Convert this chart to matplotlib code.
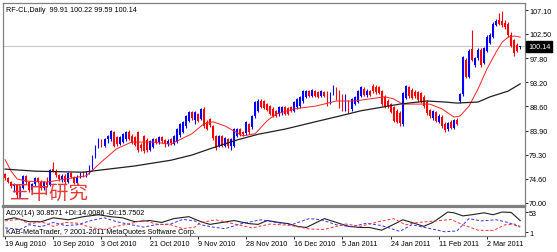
import numpy as np
import matplotlib
matplotlib.use('Agg')
from matplotlib import pyplot as plt

plt.rcParams['font.family'] = ['Liberation Sans', 'Noto Sans CJK SC', 'DejaVu Sans']

# Bougies journalieres RF-CL
opens = [75.5, 74.7, 74.0, 73.2, 73.5, 71.5, 72.9, 75.1, 74.0, 72.4, 73.6, 74.7, 74.1, 72.8, 74.0, 73.4,
         76.6, 76.2, 75.3, 74.5, 75.2, 74.0, 75.8, 75.0, 73.9, 75.0, 75.8, 75.3, 75.9, 76.9, 79.0, 80.9,
         82.1, 81.0, 82.3, 82.2, 83.7, 82.6, 81.4, 81.8, 82.2, 83.6, 82.9, 82.6, 83.6, 81.2, 82.8, 82.0,
         80.1, 80.8, 82.3, 81.7, 82.6, 82.1, 81.3, 82.3, 81.4, 81.8, 83.0, 83.7, 84.8, 85.8, 87.4, 86.0,
         87.1, 86.1, 88.0, 85.6, 86.1, 84.8, 82.9, 81.0, 82.8, 81.0, 82.3, 81.0, 81.0, 82.9, 84.2, 83.6,
         83.4, 85.2, 84.6, 86.7, 87.7, 89.6, 89.6, 89.0, 88.6, 88.1, 87.6, 87.1, 87.4, 88.4, 88.2, 88.4,
         87.7, 88.4, 88.6, 89.6, 90.4, 91.5, 90.6, 91.5, 91.3, 90.6, 91.3, 91.3, 89.4, 91.0, 91.9, 91.5,
         90.6, 88.0, 89.4, 88.0, 89.1, 89.5, 90.6, 92.0, 90.7, 91.5, 92.5, 92.3, 92.2, 91.5, 90.4, 89.6,
         89.0, 88.4, 87.7, 87.3, 85.2, 90.2, 92.2, 91.8, 91.4, 91.3, 91.1, 90.4, 89.4, 87.8, 86.3, 87.4,
         85.6, 86.6, 85.2, 84.2, 85.6, 84.5, 86.0, 89.6, 91.0, 97.5, 94.3, 99.6, 96.5, 97.8, 99.4, 97.0,
         99.3, 100.8, 102.0, 104.3, 105.2, 105.0, 104.6, 104.5, 102.2, 101.3, 100.4, 99.91]
highs = [75.8, 75.0, 74.3, 73.8, 73.7, 73.2, 75.4, 75.3, 74.2, 73.9, 75.0, 74.9, 74.4, 74.3, 74.9, 76.6,
         77.9, 76.5, 75.6, 75.5, 75.5, 76.0, 76.0, 75.2, 75.3, 76.0, 76.1, 76.2, 77.2, 79.3, 81.2, 82.4,
         82.3, 82.5, 83.1, 84.1, 83.9, 82.8, 82.8, 83.5, 83.8, 84.0, 83.2, 82.9, 83.9, 81.5, 83.1, 82.4,
         82.1, 82.5, 82.5, 82.8, 82.8, 82.3, 82.2, 82.5, 83.1, 84.4, 85.4, 85.8, 86.9, 87.7, 87.6, 87.6,
         87.3, 88.3, 88.4, 85.9, 86.3, 85.0, 83.1, 83.1, 83.0, 82.7, 82.5, 82.5, 84.4, 84.4, 84.4, 83.9,
         85.8, 85.4, 86.9, 89.6, 89.9, 89.9, 89.8, 89.3, 88.8, 88.4, 87.9, 88.6, 88.7, 88.6, 88.4, 88.6,
         89.6, 90.2, 90.6, 91.7, 91.8, 91.8, 92.0, 91.7, 91.6, 91.8, 91.6, 91.5, 91.3, 92.6, 92.2, 91.8,
         90.9, 90.9, 89.7, 90.2, 90.6, 91.7, 92.5, 92.3, 91.9, 91.7, 92.8, 92.6, 92.5, 91.8, 90.7, 89.9,
         89.3, 88.7, 88.0, 87.6, 91.3, 92.7, 92.5, 92.1, 91.7, 91.6, 91.4, 90.7, 89.7, 88.1, 87.9, 87.7,
         87.1, 86.9, 85.5, 85.6, 85.9, 86.2, 86.3, 91.2, 98.3, 97.9, 99.6, 103.2, 98.1, 99.8, 99.7, 100.0,
         102.3, 102.6, 104.8, 105.3, 106.5, 106.9, 105.2, 104.8, 102.9, 101.6, 100.7, 100.22]
lows = [74.4, 73.8, 72.9, 72.0, 71.0, 71.2, 72.6, 73.7, 72.1, 72.0, 73.3, 73.8, 72.5, 72.5, 73.0, 73.2,
        75.9, 74.9, 74.2, 74.0, 73.7, 73.8, 74.7, 73.6, 73.7, 74.7, 74.9, 75.0, 75.6, 76.6, 78.6, 80.5,
        80.8, 80.8, 81.6, 81.9, 80.8, 81.0, 81.1, 81.6, 81.9, 82.0, 81.3, 80.9, 79.8, 79.9, 79.6, 79.8,
        79.9, 80.6, 81.4, 81.4, 81.6, 80.8, 81.0, 81.2, 81.1, 81.5, 82.7, 83.4, 84.5, 85.5, 85.9, 85.2,
        85.5, 85.9, 84.5, 84.0, 84.6, 82.1, 80.2, 80.7, 80.8, 80.7, 80.6, 80.2, 80.7, 82.6, 82.8, 82.9,
        83.1, 83.3, 84.3, 86.4, 87.4, 88.2, 88.0, 87.6, 86.9, 86.5, 86.5, 86.8, 87.0, 86.9, 86.9, 87.4,
        87.4, 88.1, 88.3, 89.3, 90.1, 90.4, 90.3, 90.3, 90.1, 90.3, 90.3, 88.7, 89.1, 90.7, 89.7, 88.3,
        87.6, 87.7, 87.3, 87.7, 88.8, 89.2, 90.3, 90.5, 90.4, 90.5, 91.2, 91.0, 90.9, 88.7, 88.3, 88.3,
        87.2, 85.5, 85.3, 84.8, 84.8, 89.9, 90.2, 89.9, 90.2, 89.5, 89.2, 88.3, 87.0, 86.4, 86.0, 85.5,
        85.3, 84.5, 83.6, 83.9, 84.2, 84.2, 84.9, 89.2, 90.6, 94.0, 94.0, 97.2, 96.2, 97.5, 96.2, 96.7,
        99.0, 100.5, 101.7, 104.0, 104.2, 103.9, 103.5, 101.9, 99.9, 98.3, 99.0, 99.59]
closes = [74.7, 74.0, 73.2, 73.5, 71.5, 72.9, 75.1, 74.0, 72.4, 73.6, 74.7, 74.1, 72.8, 74.0, 73.4, 76.3,
          76.2, 75.3, 74.5, 75.2, 74.0, 75.8, 75.0, 73.9, 75.0, 75.8, 75.3, 75.9, 76.9, 79.0, 80.9, 82.1,
          81.0, 82.3, 82.8, 83.8, 81.0, 81.4, 82.6, 83.3, 83.6, 82.3, 81.5, 81.2, 80.1, 80.5, 79.9, 80.2,
          81.9, 82.3, 81.7, 82.6, 81.9, 81.3, 81.9, 81.6, 82.9, 84.2, 85.2, 85.6, 86.7, 87.5, 86.3, 87.4,
          85.7, 88.1, 84.8, 84.3, 84.9, 82.4, 80.5, 82.9, 81.0, 82.4, 80.9, 82.3, 84.2, 84.2, 83.1, 83.2,
          85.6, 83.6, 86.7, 89.4, 89.6, 88.4, 88.2, 87.8, 87.1, 86.7, 86.8, 88.4, 88.5, 87.1, 87.1, 87.7,
          89.4, 90.0, 90.4, 91.5, 91.5, 90.6, 91.7, 90.6, 90.4, 91.5, 90.6, 89.0, 91.0, 92.3, 90.0, 88.6,
          87.9, 90.6, 87.6, 90.0, 90.4, 91.5, 92.3, 90.8, 91.6, 90.8, 91.5, 91.3, 91.2, 89.0, 88.6, 88.6,
          87.5, 85.8, 85.6, 85.4, 91.1, 92.4, 90.5, 90.2, 90.5, 89.8, 89.5, 88.6, 87.3, 86.7, 87.6, 85.8,
          86.8, 84.8, 84.0, 85.3, 84.5, 85.9, 85.2, 90.9, 98.0, 94.3, 99.3, 97.5, 97.8, 99.5, 96.5, 99.7,
          102.0, 102.3, 104.5, 105.0, 104.5, 104.2, 103.8, 102.2, 100.2, 98.9, 99.3, 100.14]

# Moyennes mobiles (points relevés)
ma_red_bars = [0, 2, 4, 7, 14, 20, 27, 32, 37, 42, 49, 55, 62, 66, 69, 73, 76, 79, 83, 87, 90, 96, 103,
               110, 116, 121, 126, 129, 132, 137, 141, 145, 149, 151, 154, 157, 160, 163, 165, 167, 169, 171]
ma_red = [78.3, 76.1, 74.6, 74.2, 74.0, 74.6, 75.2, 77.9, 80.4, 81.7, 81.7, 81.3, 83.3, 85.2, 85.6, 84.8,
          83.8, 82.9, 83.3, 85.8, 87.1, 88.1, 88.6, 89.6, 89.6, 90.0, 90.4, 90.0, 89.0, 89.0, 89.0, 88.1,
          86.5, 86.7, 88.6, 91.9, 95.8, 99.0, 100.9, 101.9, 102.1, 101.9]
ma_black_bars = [0, 10, 26, 30, 43, 55, 62, 69, 77, 84, 93, 103, 111, 118, 125, 131, 140, 146, 150, 157,
                 161, 167, 171]
ma_black = [76.5, 76.1, 75.9, 76.2, 77.1, 78.2, 79.2, 80.6, 82.1, 83.2, 84.2, 85.6, 86.7, 87.7, 88.4, 89.0,
            89.6, 89.4, 89.2, 89.4, 90.4, 91.5, 92.9]

# ADX(14)
adx_bars = [0, 3, 8, 12, 16, 21, 26, 31, 35, 39, 43, 48, 52, 56, 61, 65, 68, 72, 76, 81, 84, 87, 91, 94,
            97, 100, 106, 110, 114, 118, 121, 125, 129, 132, 135, 139, 142, 147, 149, 152, 155, 159, 162,
            165, 168, 170, 171]
adx = [33, 38, 28, 28, 38, 33, 41, 46, 41, 38, 28, 31, 26, 36, 41, 28, 21, 26, 31, 23, 21, 31, 26, 23,
       16, 13, 36, 26, 16, 13, 13, 6, 21, 33, 26, 16, 26, 53, 51, 43, 46, 51, 46, 53, 52, 38, 30.86]
pdi_bars = [0, 5, 8, 12, 16, 20, 24, 29, 33, 37, 42, 46, 50, 55, 59, 63, 65, 69, 73, 78, 85, 90, 95, 101,
            105, 110, 115, 120, 125, 131, 135, 140, 146, 150, 154, 158, 163, 167, 171]
pdi = [12, 8, 20, 15, 26, 18, 20, 32, 38, 28, 20, 14, 20, 22, 34, 30, 20, 14, 10, 22, 33, 26, 20, 36,
       33, 20, 15, 24, 18, 3, 20, 12, 2, 4, 36, 30, 33, 26, 14.0]
mdi_bars = [0, 5, 8, 12, 16, 20, 24, 29, 33, 37, 42, 46, 50, 55, 59, 63, 65, 70, 75, 82, 88, 95, 101,
            106, 113, 118, 124, 129, 133, 137, 143, 148, 152, 157, 162, 166, 169, 171]
mdi = [30, 34, 22, 28, 16, 26, 24, 12, 8, 16, 24, 32, 22, 20, 10, 14, 26, 33, 24, 12, 22, 18, 9, 8, 22,
       16, 28, 36, 20, 26, 30, 34, 20, 6, 5, 20, 22, 15.75]

price_ticks = [107.10, 102.50, 97.80, 93.20, 88.60, 83.90, 79.30, 74.60, 70.00]
date_ticks = [0, 16, 32, 48, 64, 80, 96, 112, 128, 144, 160]
date_labels = ['19 Aug 2010', '10 Sep 2010', '3 Oct 2010', '21 Oct 2010', '9 Nov 2010', '28 Nov 2010',
               '16 Dec 2010', '5 Jan 2011', '24 Jan 2011', '11 Feb 2011', '2 Mar 2011']

fs = 5.2
frame = '#808080'

fig = plt.figure(figsize=(5.57, 2.53), dpi=100)
ax = fig.add_axes([3 / 557, 46 / 253, 522 / 557, 203 / 253])
ax2 = fig.add_axes([3 / 557, 16 / 253, 522 / 557, 29 / 253])

o = np.array(opens)
h = np.array(highs)
l = np.array(lows)
c = np.array(closes)
x = np.arange(len(c))
cols = np.where(c >= o, '#0000ff', '#ff0000')

ax.axhline(closes[-1], color='#c8c8c8', lw=0.8, zorder=1)
ax.vlines(x, l, h, colors=cols, lw=0.8, zorder=2)
ax.bar(x, np.maximum(np.abs(c - o), 0.08), bottom=np.minimum(o, c), width=0.6, color=cols,
       linewidth=0, zorder=3)
ax.plot(ma_red_bars, ma_red, color='#ff2020', lw=0.7, zorder=4)
ax.plot(ma_black_bars, ma_black, color='#202020', lw=0.9, zorder=4)

ax.set_xlim(-0.7, 172.6)
ax.set_ylim(69.4, 108.45)
ax.set_xticks([])
ax.yaxis.tick_right()
ax.set_yticks(price_ticks)
ax.set_yticklabels([f'{p:.2f}' for p in price_ticks])
ax.tick_params(axis='y', length=2, width=0.6, pad=1, labelsize=fs, colors='black')

ax.text(0.005, 0.985, 'RF-CL,Daily  99.91 100.22 99.59 100.14', transform=ax.transAxes,
        ha='left', va='top', fontsize=fs)
ax.text(1.5, 70.0, '王中研究', fontsize=14, color='#e53935', ha='left', va='bottom',
        family=['Noto Sans CJK SC', 'DejaVu Sans'], zorder=5)
ax.text(1.006, closes[-1], f'{closes[-1]:.2f}', transform=ax.get_yaxis_transform(), ha='left',
        va='center', fontsize=fs, color='white',
        bbox=dict(boxstyle='square,pad=0.25', fc='black', ec='black'))

ax2.plot(adx_bars, adx, color='#202020', lw=0.8)
ax2.plot(pdi_bars, pdi, color='#3030ff', lw=0.7, ls=(0, (3, 2)))
ax2.plot(mdi_bars, mdi, color='#ff3030', lw=0.7, ls=(0, (3, 2)))
ax2.set_xlim(-0.7, 172.6)
ax2.set_ylim(-9, 66)
ax2.yaxis.tick_right()
ax2.set_yticks([53, 1])
ax2.set_yticklabels(['53', '1'])
ax2.tick_params(axis='y', length=2, width=0.6, pad=1, labelsize=fs)
ax2.set_xticks(date_ticks)
ax2.set_xticklabels(date_labels, ha='left')
ax2.tick_params(axis='x', length=2.5, width=0.6, pad=0.5, labelsize=fs)
ax2.text(0.005, 0.93, 'ADX(14) 30.8571 +DI:14.0086 -DI:15.7502', transform=ax2.transAxes,
         ha='left', va='top', fontsize=fs)
ax2.text(0.005, 0.05, 'KAB-MetaTrader, ? 2001-2011 MetaQuotes Software Corp.', transform=ax2.transAxes,
         ha='left', va='bottom', fontsize=fs)

for a in (ax, ax2):
    for s in a.spines.values():
        s.set_color(frame)
        s.set_linewidth(0.9)
ax.spines['bottom'].set_linewidth(1.6)
ax2.spines['top'].set_linewidth(1.6)

fig.savefig('out.png', dpi=100)
